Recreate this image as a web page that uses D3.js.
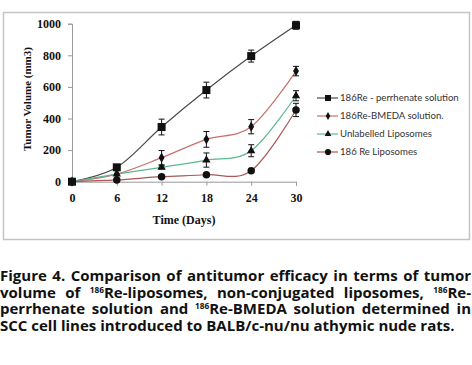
<!DOCTYPE html>
<html>
    <head>
        <script src="https://cdn.jsdelivr.net/npm/d3@7"></script>
        <style>
            body { margin: 0; background: #fff; }
        </style>
    </head>
    <body>
        <div class="chart"></div>
    </body>
    <script>
        // data
        const days = [0, 6, 12, 18, 24, 30];
        const yTicks = [0, 200, 400, 600, 800, 1000];
        const seriesNames = ["186Re - perrhenate solution", "186Re-BMEDA solution.", "Unlabelled Liposomes", "186 Re Liposomes"];
        const perrhenate = [0, 91, 346, 580, 795, 990];
        const perrhenateErr = [0, 10, 50, 50, 38, 25];
        const bmeda = [0, 48, 152, 268, 348, 700];
        const bmedaErr = [0, 0, 45, 50, 45, 30];
        const unlabelled = [0, 48, 91, 137, 196, 544];
        const unlabelledErr = [0, 0, 10, 45, 38, 32];
        const reLipo = [0, 11, 32, 44, 70, 454];
        const reLipoErr = [0, 0, 0, 0, 8, 42];
        const captionLines = [
            ["Figure 4. Comparison of antitumor efficacy in terms of tumor"],
            ["volume of ", {sup: "186"}, "Re-liposomes, non-conjugated liposomes, ", {sup: "186"}, "Re-"],
            ["perrhenate solution and ", {sup: "186"}, "Re-BMEDA solution determined in"],
            ["SCC cell lines introduced to BALB/c-nu/nu athymic nude rats."]
        ];

        const series = [
            {name: seriesNames[0], values: perrhenate, err: perrhenateErr, color: "#4a4a4a", shape: "square"},
            {name: seriesNames[1], values: bmeda, err: bmedaErr, color: "#c8706e", shape: "diamond"},
            {name: seriesNames[2], values: unlabelled, err: unlabelledErr, color: "#5cb88e", shape: "triangle"},
            {name: seriesNames[3], values: reLipo, err: reLipoErr, color: "#a85856", shape: "circle"}
        ];

        const width = 472, height = 365;
        const svg = d3.select(".chart").append("svg")
            .attr("width", width).attr("height", height)
            .style("display", "block");

        // outer frame of the plot area
        svg.append("rect")
            .attr("x", 3.5).attr("y", 12.5).attr("width", 466).attr("height", 227)
            .attr("fill", "#fff").attr("stroke", "#c4c4c4").attr("stroke-width", 1.5);

        const x = d3.scaleLinear().domain([0, 30]).range([72, 296]);
        const y = d3.scaleLinear().domain([0, 1000]).range([181.7, 23.7]);

        const serif = "'Liberation Serif', 'Times New Roman', serif";

        // y axis
        const gy = svg.append("g").attr("transform", "translate(72,0)")
            .call(d3.axisLeft(y).tickValues(yTicks).tickFormat(d3.format("d")).tickSize(4).tickPadding(7));
        gy.selectAll("path, line").attr("stroke", "#999");
        gy.selectAll("text").attr("font-family", serif).attr("font-weight", "bold")
            .attr("font-size", 12).attr("fill", "#111");

        // x axis
        const gx = svg.append("g").attr("transform", "translate(0,181.7)")
            .call(d3.axisBottom(x).tickValues(days).tickSize(4).tickPadding(8));
        gx.selectAll("path, line").attr("stroke", "#999");
        gx.selectAll("text").attr("font-family", serif).attr("font-weight", "bold")
            .attr("font-size", 12).attr("fill", "#111");

        svg.append("text")
            .attr("x", 184).attr("y", 224)
            .attr("text-anchor", "middle")
            .attr("font-family", serif).attr("font-weight", "bold").attr("font-size", 12)
            .attr("fill", "#111")
            .text("Time (Days)");

        svg.append("text")
            .attr("transform", "translate(31,99) rotate(-90)")
            .attr("text-anchor", "middle")
            .attr("font-family", serif).attr("font-weight", "bold").attr("font-size", 11)
            .attr("fill", "#111")
            .text("Tumor Volume (mm3)");

        const line = d3.line()
            .x((d, i) => x(days[i]))
            .y(d => y(d))
            .curve(d3.curveCatmullRom.alpha(0));

        const symbolOf = {
            square: d3.symbol(d3.symbolSquare, 64),
            diamond: d3.symbol(d3.symbolDiamond, 30),
            triangle: d3.symbol(d3.symbolTriangle, 30),
            circle: d3.symbol(d3.symbolCircle, 44)
        };

        series.forEach(s => {
            svg.append("path")
                .attr("d", line(s.values))
                .attr("fill", "none").attr("stroke", s.color).attr("stroke-width", 1.2);
        });

        series.forEach(s => {
            const g = svg.append("g");
            s.values.forEach((v, i) => {
                const e = s.err[i];
                if (e > 0) {
                    const cx = x(days[i]);
                    g.append("line").attr("x1", cx).attr("x2", cx)
                        .attr("y1", y(v - e)).attr("y2", y(v + e))
                        .attr("stroke", "#111").attr("stroke-width", 1);
                    [v - e, v + e].forEach(t => {
                        g.append("line").attr("x1", cx - 3).attr("x2", cx + 3)
                            .attr("y1", y(t)).attr("y2", y(t))
                            .attr("stroke", "#111").attr("stroke-width", 1);
                    });
                }
                g.append("path")
                    .attr("d", symbolOf[s.shape]())
                    .attr("transform", `translate(${x(days[i])},${y(v)})`)
                    .attr("fill", "#111");
            });
        });

        // legend
        const legendSym = {
            square: d3.symbol(d3.symbolSquare, 36),
            diamond: d3.symbol(d3.symbolDiamond, 18),
            triangle: d3.symbol(d3.symbolTriangle, 20),
            circle: d3.symbol(d3.symbolCircle, 30)
        };
        const lg = svg.append("g").attr("transform", "translate(317,98)");
        series.forEach((s, i) => {
            const row = lg.append("g").attr("transform", `translate(0,${i * 18})`);
            row.append("line").attr("x1", 0).attr("x2", 21).attr("y1", 0).attr("y2", 0)
                .attr("stroke", s.color).attr("stroke-width", 1.2);
            row.append("path").attr("d", legendSym[s.shape]())
                .attr("transform", "translate(11,0)").attr("fill", "#111");
            row.append("text").attr("x", 23).attr("y", 0).attr("dy", "0.35em")
                .attr("font-family", "Lato, 'Noto Sans', sans-serif").attr("font-size", 9.6)
                .attr("fill", "#333")
                .text(s.name);
        });

        // caption, justified line by line
        const capFont = "'Open Sans', Lato, sans-serif";
        const capSize = 15;
        const baselines = [281, 297.7, 314.3, 331];
        const capLeft = 0, capRight = 471;
        captionLines.forEach((parts, li) => {
            // split into words, keeping superscripts attached
            const words = [];
            let cur = [];
            parts.forEach(p => {
                if (typeof p === "string") {
                    const bits = p.split(" ");
                    bits.forEach((b, bi) => {
                        if (bi > 0) { if (cur.length) words.push(cur); cur = []; }
                        if (b) cur.push({t: b});
                    });
                } else {
                    cur.push({t: p.sup, sup: true});
                }
            });
            if (cur.length) words.push(cur);

            const wordEls = words.map(w => {
                const t = svg.append("text")
                    .attr("y", baselines[li])
                    .attr("font-family", capFont).attr("font-weight", "bold")
                    .attr("font-size", capSize).attr("fill", "#111");
                w.forEach((piece, pi) => {
                    const ts = t.append("tspan").text(piece.t);
                    if (piece.sup) ts.attr("font-size", capSize * 0.55).attr("dy", -5);
                    else if (pi > 0 && w[pi - 1].sup) ts.attr("dy", 5);
                });
                return t;
            });
            const widths = wordEls.map(t => t.node().getComputedTextLength());
            const total = d3.sum(widths);
            const spaceW = capSize * 0.26;
            const last = li === captionLines.length - 1;
            const gap = last ? spaceW : (capRight - capLeft - total) / (wordEls.length - 1);
            let xx = capLeft;
            wordEls.forEach((t, i) => {
                t.attr("x", xx);
                xx += widths[i] + gap;
            });
        });
    </script>
</html>
